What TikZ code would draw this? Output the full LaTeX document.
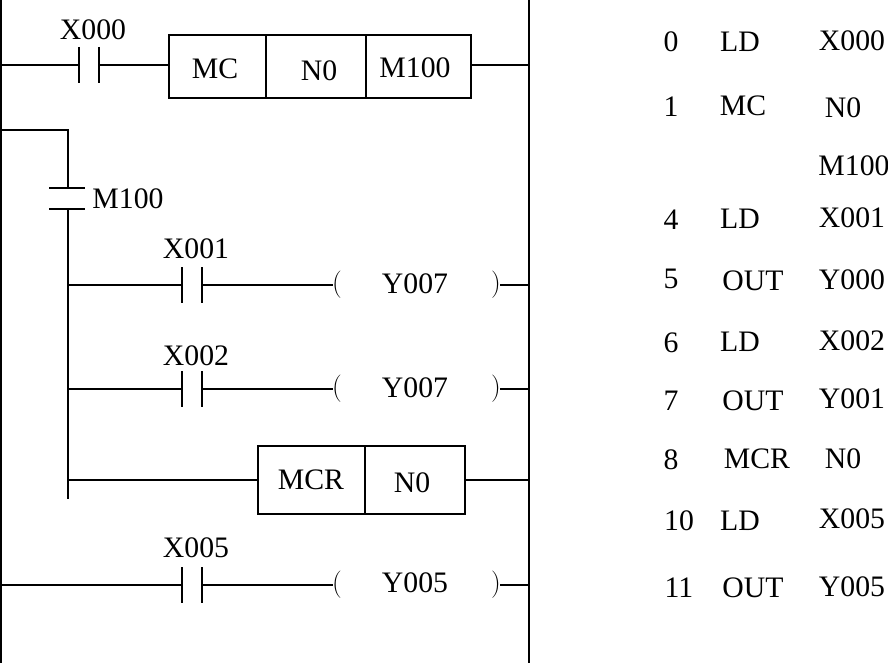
\documentclass[tikz,border=0pt]{standalone}
\usepackage{fontspec}
\setmainfont{Liberation Serif}
\newfontfamily\parfont{Latin Modern Roman}
\tikzset{
 wire/.style={line width=1.2pt,black},
 rail/.style={line width=1.5pt,black},
 lbl/.style={inner sep=0pt,font=\fontsize{22.3}{26}\selectfont,anchor=center},
 par/.style={inner sep=0pt,font=\parfont\fontsize{20.5}{24}\selectfont,anchor=center},
 cell/.style={draw,line width=1.2pt,inner sep=0pt,anchor=center}
}
\newcommand{\contact}[3]{% x left, y, name
 \coordinate (#3L) at (#1,#2);
 \coordinate (#3R) at (#1+20,#2);
 \draw[wire] (#1,#2-18) -- (#1,#2+18);
 \draw[wire] (#1+20,#2-18) -- (#1+20,#2+18);
}
\begin{document}
\begin{tikzpicture}[x=0.75pt,y=-0.75pt]
\useasboundingbox (0,0) rectangle (888,663);
\fill[white] (0,0) rectangle (888,663);
% rails
\coordinate (railLT) at (1,0);
\coordinate (railLB) at (1,663);
\coordinate (railRT) at (529,0);
\coordinate (railRB) at (529,663);
\draw[rail] (railLT) -- (railLB);
\draw[rail] (railRT) -- (railRB);
% rung 1
\coordinate (wa) at (1,65);
\coordinate (ra) at (529,65);
\contact{79}{65}{ca}
\node[lbl] (t1) at (93,30) {X000};
\node[cell,minimum width=72.75pt,minimum height=47.25pt] (mc) at (217.5,66.5) {};
\node[cell,minimum width=75pt,minimum height=47.25pt] (nzero) at (316,66.5) {};
\node[cell,minimum width=78.75pt,minimum height=47.25pt] (mh) at (418.5,66.5) {};
\node[lbl] (t2) at (215,69) {MC};
\node[lbl] (t3) at (319,71) {N0};
\node[lbl] (t4) at (415,68) {M100};
\draw[wire] (wa) -- (caL);
\draw[wire] (caR) -- (caR -| mc.west);
\draw[wire] (ra -| mh.east) -- (ra);
% M100 contact
\coordinate (ba) at (1,130);
\coordinate (bb) at (68,130);
\coordinate (bc) at (68,188);
\coordinate (bd) at (68,209);
\coordinate (be) at (68,499);
\draw[wire] (ba) -- (bb) -- (bc);
\draw[wire] (bd) -- (be);
\coordinate (cla) at (49,188);
\coordinate (clb) at (85,188);
\coordinate (clc) at (49,209);
\coordinate (cld) at (85,209);
\draw[wire] (cla) -- (clb);
\draw[wire] (clc) -- (cld);
\node[lbl] (t5) at (128,199) {M100};
% rung X001
\contact{182}{285}{cb}
\node[lbl] (t6) at (196,249) {X001};
\coordinate (ja) at (68,285);
\coordinate (ea) at (333,285);
\coordinate (pa) at (500,285);
\coordinate (rb) at (529,285);
\draw[wire] (ja) -- (cbL);
\draw[wire] (cbR) -- (ea);
\draw[wire] (pa) -- (rb);
\node[par] (lpa) at (337,285) {(};
\node[par] (rpa) at (496,285) {)};
\node[lbl] (t7) at (415,284) {Y007};
% rung X002
\contact{182}{389}{cc}
\node[lbl] (t8) at (196,356) {X002};
\coordinate (jb) at (68,389);
\coordinate (eb) at (333,389);
\coordinate (pb) at (500,389);
\coordinate (rc) at (529,389);
\draw[wire] (jb) -- (ccL);
\draw[wire] (ccR) -- (eb);
\draw[wire] (pb) -- (rc);
\node[par] (lpb) at (337,389) {(};
\node[par] (rpb) at (496,389) {)};
\node[lbl] (t9) at (415,388) {Y007};
% MCR
\coordinate (jc) at (68,480);
\coordinate (rd) at (529,480);
\node[cell,minimum width=80.25pt,minimum height=51pt] (mcr) at (311.5,480) {};
\node[cell,minimum width=75pt,minimum height=51pt] (nzerob) at (415,480) {};
\node[lbl] (t10) at (311,480) {MCR};
\node[lbl] (t11) at (412,483) {N0};
\draw[wire] (jc) -- (mcr.west);
\draw[wire] (nzerob.east) -- (rd);
% rung X005
\contact{182}{585}{cd}
\node[lbl] (t12) at (196,548) {X005};
\coordinate (wf) at (1,585);
\coordinate (ef) at (333,585);
\coordinate (pf) at (500,585);
\coordinate (re) at (529,585);
\draw[wire] (wf) -- (cdL);
\draw[wire] (cdR) -- (ef);
\draw[wire] (pf) -- (re);
\node[par] (lpf) at (337,585) {(};
\node[par] (rpf) at (496,585) {)};
\node[lbl] (t13) at (415,583) {Y005};
% list
\node[lbl] (a1) at (671,42) {0};
\node[lbl] (a2) at (740,42) {LD};
\node[lbl] (a3) at (852,41) {X000};
\node[lbl] (b1t) at (671,107) {1};
\node[lbl] (b2t) at (743,106) {MC};
\node[lbl] (b3t) at (843,108) {N0};
\node[lbl] (c3) at (854,166) {M100};
\node[lbl] (d1) at (671,220) {4};
\node[lbl] (d2) at (740,219) {LD};
\node[lbl] (d3) at (852,218) {X001};
\node[lbl] (e1t) at (671,279) {5};
\node[lbl] (e2t) at (753,281) {OUT};
\node[lbl] (e3) at (852,280) {Y000};
\node[lbl] (f1) at (671,343) {6};
\node[lbl] (f2) at (740,342) {LD};
\node[lbl] (f3) at (852,341) {X002};
\node[lbl] (g1) at (671,401) {7};
\node[lbl] (g2) at (753,401) {OUT};
\node[lbl] (g3) at (852,399) {Y001};
\node[lbl] (h1) at (671,460) {8};
\node[lbl] (h2) at (757,459) {MCR};
\node[lbl] (h3) at (843,459) {N0};
\node[lbl] (i1) at (679,521) {10};
\node[lbl] (i2) at (740,521) {LD};
\node[lbl] (i3) at (852,519) {X005};
\node[lbl] (j1t) at (679,588) {11};
\node[lbl] (j2t) at (753,588) {OUT};
\node[lbl] (j3t) at (852,587) {Y005};
\end{tikzpicture}
\end{document}
